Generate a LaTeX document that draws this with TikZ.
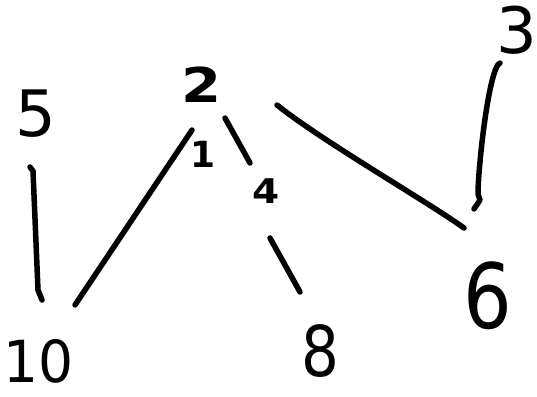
\documentclass[tikz,border=0pt]{standalone}
\usepackage{fontspec}
\setmainfont{DejaVu Sans}
\tikzset{
  digit/.style={font=\fontsize{#1}{#1}\selectfont, inner sep=0pt, text=black},
  heavy/.style={font=\fontsize{#1}{#1}\selectfont\bfseries, inner sep=0pt, text=black},
  stroke/.style={line width=5.5pt, line cap=round, line join=round, black}
}
\begin{document}
\begin{tikzpicture}[x=1pt, y=-1pt]
\useasboundingbox (0,0) rectangle (537,396);

% vertices
\node[digit=64] (n5)  at (36,114)  {5};
\node[heavy=48, xscale=1.2] (n2)  at (202,85)  {2};
\node[digit=64] (n3)  at (517,30)  {3};
\node[digit=58, xscale=0.95] (n10) at (39,361)  {10};
\node[digit=70, xscale=0.85] (n8)  at (320,351)  {8};
\node[digit=90, xscale=0.85] (n6)  at (488,296)  {6};

% edge weights
\node[heavy=36] (w1) at (203,154) {1};
\node[heavy=34, xscale=1.15] (w4) at (266,191) {4};

% edges
\draw[stroke] ([shift={(-6,53)}]n5.center) -- ([shift={(-3,57)}]n5.center)
  -- ([shift={(-1,-71)}]n10.center) -- ([shift={(3,-61)}]n10.center);
\draw[stroke] ([shift={(-10,45)}]n2.center) -- ([shift={(36,-56)}]n10.center);
\draw[stroke] ([shift={(23,33)}]n2.center) -- ([shift={(-16,-28)}]w4.center);
\draw[stroke] ([shift={(4,47)}]w4.center) -- ([shift={(-20,-59)}]n8.center);
\draw[stroke] ([shift={(75,20)}]n2.center) .. controls ([shift={(120,56)}]n2.center)
  and ([shift={(-60,-94)}]n6.center) .. ([shift={(-24,-68)}]n6.center);
\draw[stroke] ([shift={(-17,33)}]n3.center) .. controls ([shift={(-28,37)}]n3.center)
  and ([shift={(-10,-129)}]n6.center) .. ([shift={(-10,-102)}]n6.center)
  -- ([shift={(-8,-96)}]n6.center) -- ([shift={(-14,-87)}]n6.center);
\end{tikzpicture}
\end{document}
